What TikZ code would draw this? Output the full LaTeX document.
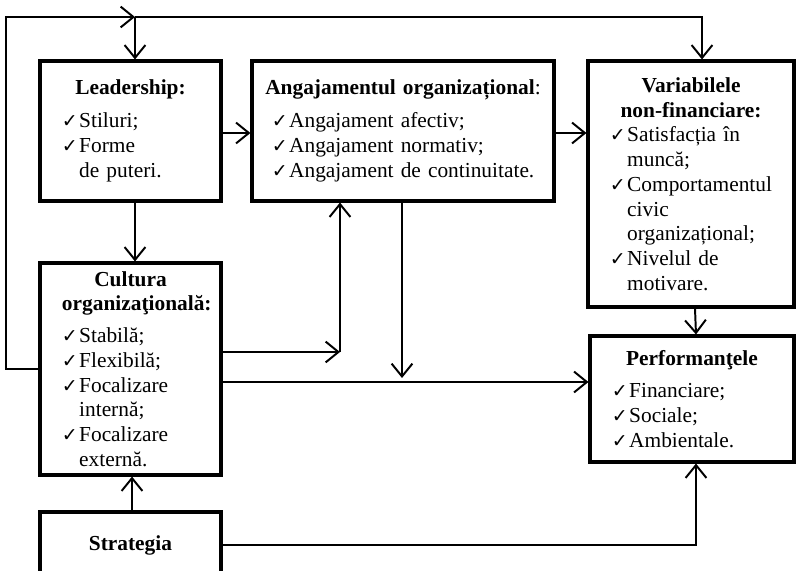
\documentclass[tikz,border=0pt]{standalone}
\usepackage{fontspec}
\setmainfont{Liberation Serif}
\newfontfamily\symfont{DejaVu Sans}
\usepackage{tikz}
\usetikzlibrary{arrows.meta, calc}

\hyphenpenalty=10000
\exhyphenpenalty=10000
\newlength\chkw
\setlength\chkw{0.43cm}
\newcommand{\chk}{{\symfont\fontsize{13.5}{14}\selectfont ✓}}
\newcommand{\itm}[1]{\par\noindent\hangindent=\chkw\hangafter=1\makebox[\chkw][l]{\chk}#1\par}
\newcommand{\ttl}[2][0pt]{{\centering #2\par}\vspace{#1}}

\begin{document}
\begin{tikzpicture}[
        x=0.025cm, y=-0.025cm,
        font=\fontsize{15.2}{17.6}\selectfont,
        box/.style = {rectangle, draw, line width=2.2pt, inner xsep=0.55cm, inner ysep=0pt, align=left},
        arr/.style = {draw, line width=1.4pt, -{Straight Barb[length=3.2mm, width=5.2mm, line width=1.4pt]}}
    ]
    \useasboundingbox (0,0) rectangle (797,571);

    % Boxes
    \node [box, text width=3.425cm, minimum width=4.525cm, minimum height=3.5cm] (lead) at (130.5,131)
        {\ttl[6pt]{\textbf{Leadership:}}
         \itm{Stiluri;}
         \itm{Forme\newline de puteri.}};
    \node [box, inner xsep=0.5cm, text width=6.55cm, minimum width=7.55cm, minimum height=3.5cm] (ang) at (403,131)
        {\ttl[6pt]{\makebox[\linewidth][c]{\textbf{Angajamentul organizațional}:}}
         \itm{Angajament afectiv;}
         \itm{Angajament normativ;}
         \itm{\mbox{Angajament de continuitate.}}};
    \node [box, text width=4.05cm, minimum width=5.15cm, minimum height=6.15cm] (var) at (691,184)
        {\ttl{\textbf{Variabilele}\\\textbf{non-financiare:}}
         \itm{Satisfacția în\newline muncă;}
         \itm{Comportamentul\newline civic\newline organizațional;}
         \itm{Nivelul de\newline motivare.}};
    \node [box, text width=3.425cm, minimum width=4.525cm, minimum height=5.3cm] (cult) at (130.5,369)
        {\ttl[5pt]{\textbf{Cultura}\\\textbf{organizaţională:}}
         \itm{Stabilă;}
         \itm{Flexibilă;}
         \itm{Focalizare\newline internă;}
         \itm{Focalizare\newline externă.}};
    \node [box, text width=4.0cm, minimum width=5.1cm, minimum height=3.15cm] (perf) at (692,399)
        {\ttl[5pt]{\textbf{Performanţele}}
         \itm{Financiare;}
         \itm{Sociale;}
         \itm{Ambientale.}};
    \node [box, text width=3.425cm, minimum width=4.525cm, minimum height=1.65cm] (strat) at (130.5,545)
        {\ttl{\textbf{Strategia}}};

    % Junctions
    \coordinate (topj) at (135,17);
    \coordinate (j1) at (340,352);
    \coordinate (j2) at (402,382);

    % Edges
    \path [arr] (cult.west) -- ++(-32,0) |- (topj);
    \path [arr] (topj) -| ([xshift=0.275cm]var.north);
    \path [arr] (topj) -- (topj |- lead.north);
    \path [arr] (lead.east |- 0,133) -- (ang.west |- 0,133);
    \path [arr] (ang.east |- 0,133) -- (var.west |- 0,133);
    \path [arr] (topj |- lead.south) -- (topj |- cult.north);
    \path [arr] (cult.east |- j1) -- (j1);
    \path [arr] (j1) -- (j1 |- ang.south);
    \path [arr] (ang.south -| j2) -- ([yshift=0.1cm]j2);
    \path [arr] (cult.east |- j2) -- (perf.west |- j2);
    \path [arr] ([xshift=0.1cm]var.south) -- ([xshift=0.1cm]perf.north);
    \path [arr] (strat.north -| 132,0) -- (cult.south -| 132,0);
    \path [arr] (strat.east) -| ([xshift=0.1cm]perf.south);
\end{tikzpicture}
\end{document}
